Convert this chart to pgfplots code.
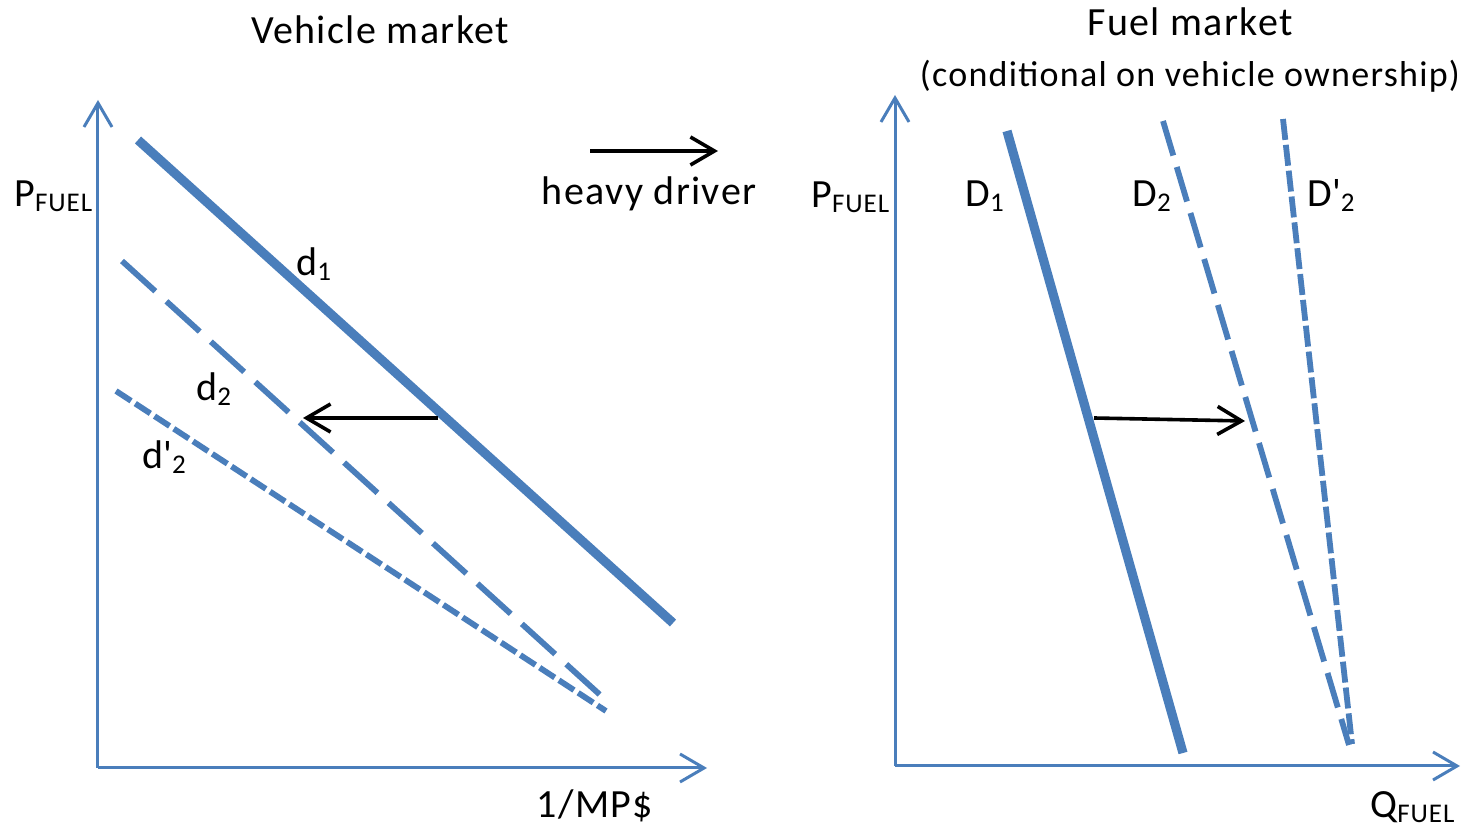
\documentclass[border=0pt]{standalone}
\usepackage{fontspec}
\setmainfont{Carlito}[LetterSpace=3.5]
\usepackage{pgfplots}
\pgfplotsset{compat=1.18}
\usetikzlibrary{arrows.meta}
\definecolor{lb}{HTML}{4A7EBB}
\newcommand{\sub}[1]{\raisebox{-2.5pt}{\fontsize{13.5}{13.5}\selectfont #1}}
\pgfplotsset{
  panel/.style={x=0.5pt, y=0.5pt, axis lines*=left, ticks=none, clip=false,
    anchor=south west,
    axis line style={lb, line width=1.5pt, -{Straight Barb[length=12pt,width=14pt,line width=1.5pt]}}},
  blk/.style={black, line width=1.8pt, -{Straight Barb[length=12pt,width=14pt,line width=1.8pt]}},
}
\begin{document}
\begin{tikzpicture}[font=\fontsize{20}{24}\selectfont]
\useasboundingbox (0,0) rectangle (734pt,415pt);
% Left panel: vehicle market
\begin{axis}[panel, at={(49pt,31pt)}, xmin=98, xmax=707, ymin=62, ymax=730]
  \addplot[lb, line width=4.6pt] coordinates {(138,690) (673,207)};
  \addplot[lb, line width=2.9pt, dash pattern=on 22.5pt off 7.5pt] coordinates {(122,569) (609,127)};
  \addplot[lb, line width=2.9pt, dash pattern=on 9pt off 2.5pt] coordinates {(116,439) (606,119)};
  \addplot[blk] coordinates {(438,412) (303,412)};
  \addplot[blk] coordinates {(590,679) (718,679)};
  \node[anchor=base] at (axis cs:380,786) {Vehicle market};
  \node[anchor=base] at (axis cs:649,625) {heavy driver};
  \node[anchor=base west, inner sep=0pt] at (axis cs:14,623) {P\sub{FUEL}};
  \node[anchor=base west, inner sep=0pt] at (axis cs:296,554) {d\sub{1}};
  \node[anchor=base west, inner sep=0pt] at (axis cs:196,429) {d\sub{2}};
  \node[anchor=base west, inner sep=0pt] at (axis cs:142,361) {d\textquotesingle\sub{2}};
  \node[anchor=base] at (axis cs:595,12) {1/MP\$};
\end{axis}
% Right panel: fuel market
\begin{axis}[panel, at={(447.5pt,32pt)}, xmin=895, xmax=1460, ymin=64, ymax=735]
  \addplot[lb, line width=4.6pt] coordinates {(1007,699) (1183,77)};
  \addplot[lb, line width=2.9pt, dash pattern=on 18pt off 6pt] coordinates {(1163,709) (1349,85)};
  \addplot[lb, line width=2.9pt, dash pattern=on 10.5pt off 2.5pt] coordinates {(1283,711) (1352,86)};
  \addplot[blk] coordinates {(1094,412) (1245,409)};
  \node[anchor=base] at (axis cs:1190,794) {Fuel market};
  \node[anchor=base] at (axis cs:1190,743) {\fontsize{18}{22}\selectfont(conditional on vehicle ownership)};
  \node[anchor=base west, inner sep=0pt] at (axis cs:811,622) {P\sub{FUEL}};
  \node[anchor=base west, inner sep=0pt] at (axis cs:965,623) {D\sub{1}};
  \node[anchor=base west, inner sep=0pt] at (axis cs:1132,623) {D\sub{2}};
  \node[anchor=base west, inner sep=0pt] at (axis cs:1307,623) {D\textquotesingle\sub{2}};
  \node[anchor=base west, inner sep=0pt] at (axis cs:1370,12) {Q\sub{FUEL}};
\end{axis}
\end{tikzpicture}
\end{document}
